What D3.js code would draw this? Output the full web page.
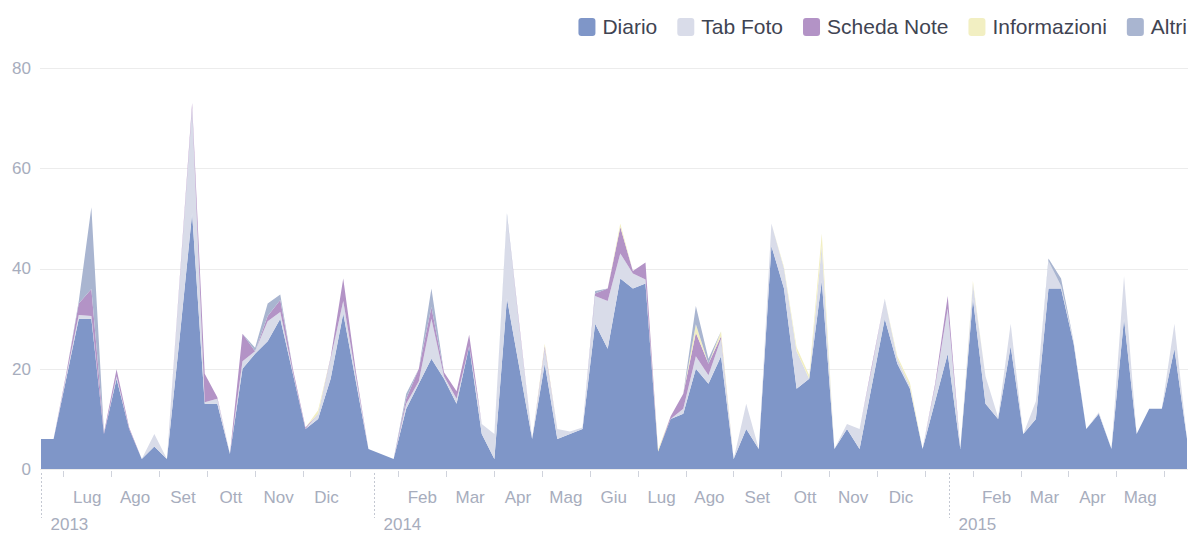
<!DOCTYPE html>
<html>
<head>
<meta charset="utf-8">
<script src="https://cdn.jsdelivr.net/npm/d3@7"></script>
<style>
  html, body { margin: 0; padding: 0; background: #fff; }
  svg { display: block; }
</style>
</head>
<body>
<svg id="chart" width="1188" height="533"></svg>
<script>
// ---------- DATA ----------
const seriesNames = ["Diario", "Tab Foto", "Scheda Note", "Informazioni", "Altri"];

const diario = [
  6, 6, 18, 30, 30, 7, 18, 8, 2, 4.5,
  2, 26, 51, 13, 13, 3, 20, 23, 25.5, 30,
  19, 8, 10, 18, 31, 17.5, 4, 3, 2, 12,
  17, 22, 18, 13, 24.5, 7, 2, 34, 20, 6,
  21, 6, 7, 8, 29, 24, 38, 36, 37, 3.5,
  10, 11, 20, 17, 22.5, 2, 8, 4, 44.5, 36,
  16, 18, 37.5, 4, 8, 4, 17, 30, 21, 16,
  4, 13.5, 23, 4, 34, 13, 10, 24.5, 7, 10,
  36, 36, 25, 8, 11, 4, 30, 7, 12, 12,
  24, 6
];
const tabFoto = [
  0, 0, 0.5, 0.7, 0.5, 0, 0.5, 0, 0, 2.5,
  0, 11, 21, 0.3, 1, 0, 1.5, 0.5, 4, 1.3,
  0.3, 0, 1, 4, 2.5, 1, 0, 0, 0, 1,
  0.5, 8, 0.5, 1, 0, 2, 5, 16.5, 8, 0,
  3, 2, 0.5, 0.3, 5.5, 9.5, 5, 3, 0.8, 0,
  0, 1, 2.5, 1.7, 3.5, 0, 5, 0, 4.5, 4,
  7.5, 0, 7, 0, 1, 4, 3.5, 4, 1, 0.5,
  0, 3, 9, 0, 3, 5.5, 0.3, 4.5, 0, 3.5,
  5.5, 0.5, 0.5, 0, 0.3, 0, 8.5, 0, 0, 0,
  5, 0
];
const schedaNote = [
  0, 0, 0.5, 2.3, 5.4, 0.3, 1.4, 0.3, 0, 0,
  0, 0.5, 1, 5.7, 0.3, 0, 5.5, 0, 1, 2.4,
  0.7, 0.3, 0, 0.3, 4.5, 1, 0, 0, 0, 1,
  2.5, 2.3, 0.8, 1.5, 2.3, 0, 0, 0, 0.5, 0,
  0.5, 0, 0, 0, 0.5, 2.5, 5.3, 0.5, 3.4, 0,
  0.5, 3, 4.7, 2.3, 0.5, 0, 0, 0, 0, 0,
  0, 0, 0, 0, 0, 0, 0.5, 0, 0, 0,
  0, 0.5, 2.5, 0, 0, 0, 0, 0, 0, 0,
  0, 0, 0, 0, 0, 0, 0, 0, 0, 0,
  0, 0
];
const informazioni = [
  0, 0, 0, 0, 0, 0, 0, 0, 0, 0,
  0, 0, 0, 0, 0, 0, 0, 0, 0, 0,
  0, 0, 0.7, 0, 0, 0, 0, 0, 0, 0,
  0, 0, 0, 0, 0, 0, 0, 0, 0, 0,
  0.5, 0, 0, 0, 0, 0, 0.7, 0, 0, 0.4,
  0, 0, 1.7, 0, 1, 0, 0, 0, 0, 0.3,
  0.8, 0.7, 2.5, 0, 0, 0, 0, 0, 0.5, 0.7,
  0, 0, 0, 0, 0.5, 0, 0, 0, 0, 0,
  0, 0, 0, 0, 0, 0, 0, 0, 0, 0,
  0, 0
];
const altri = [
  0, 0, 0, 0.5, 16.3, 0, 0, 0, 0, 0,
  0, 0, 0, 0, 0, 0, 0, 0.7, 2.5, 1.1,
  0, 0, 0, 0, 0, 0, 0, 0, 0, 1,
  0, 3.7, 0, 0, 0, 0, 0, 0.5, 0, 0,
  0, 0, 0, 0, 0.5, 0, 0, 0, 0, 0,
  0, 0, 3.6, 1, 0, 0, 0, 0, 0, 0,
  0, 0, 0, 0, 0, 0, 0, 0, 0, 0,
  0, 0, 0, 0, 0, 0, 0, 0, 0, 0,
  0.5, 1.5, 0, 0, 0, 0, 0, 0, 0, 0,
  0, 0
];

// month slots from June 2013 (index 0); year names replace January / first month
const monthLabels = ["2013", "Lug", "Ago", "Set", "Ott", "Nov", "Dic",
  "2014", "Feb", "Mar", "Apr", "Mag", "Giu", "Lug", "Ago", "Set", "Ott", "Nov", "Dic",
  "2015", "Feb", "Mar", "Apr", "Mag"];
const yTicks = [0, 20, 40, 60, 80];

// ---------- STYLE ----------
const colors = ["#7f96c8", "#d9dce9", "#b393c6", "#f2efc2", "#a9b5d0"];
const W = 1188, H = 533;
const L = 41, R = 1187, T = 68, B = 469;

const svg = d3.select("#chart");

// ---------- SCALES ----------
const rows = diario.map((d, i) => ({
  i,
  "Diario": d,
  "Tab Foto": tabFoto[i],
  "Scheda Note": schedaNote[i],
  "Informazioni": informazioni[i],
  "Altri": altri[i]
}));

const x = d3.scalePoint().domain(rows.map(r => r.i)).range([L, R]);
const y = d3.scaleLinear().domain([0, 80]).range([B, T]);
// month axis (month units, 0 = start of June 2013)
const monthX = d3.scaleLinear().domain([0.534, 24.477]).range([L, R]);

// ---------- GRID ----------
svg.append("g").selectAll("line").data(yTicks).join("line")
  .attr("x1", L - 1).attr("x2", W)
  .attr("y1", d => Math.round(y(d)) + 0.5).attr("y2", d => Math.round(y(d)) + 0.5)
  .attr("stroke", "#ececec").attr("stroke-width", 1);

const yAxis = d3.axisLeft(y).tickValues(yTicks).tickSize(0).tickPadding(0);
svg.append("g")
  .attr("transform", `translate(${L - 10},0)`)
  .call(yAxis)
  .call(g => g.select(".domain").remove())
  .call(g => g.selectAll("text")
    .attr("fill", "#a7adbd")
    .style("font-family", "'Liberation Sans', Arial, sans-serif")
    .style("font-size", "17px"));

// ---------- AREAS ----------
const stack = d3.stack().keys(seriesNames);
const layers = stack(rows);
const area = d3.area()
  .x(d => x(d.data.i))
  .y0(d => y(d[0]))
  .y1(d => y(d[1]))
  .curve(d3.curveLinear);

svg.append("g").selectAll("path").data(layers).join("path")
  .attr("d", area)
  .attr("fill", (d, i) => colors[i])
  .attr("stroke", "none");

// ---------- X AXIS ----------
const axisG = svg.append("g");
const fontFam = "'Liberation Sans', Arial, sans-serif";
// month boundary ticks
const bounds = d3.range(1, monthLabels.length + 1).filter(m => monthX(m) <= R);
axisG.selectAll("line.tick").data(bounds).join("line")
  .attr("class", "tick")
  .attr("x1", m => Math.round(monthX(m)) + 0.5).attr("x2", m => Math.round(monthX(m)) + 0.5)
  .attr("y1", B + 2).attr("y2", B + 8)
  .attr("stroke", "#d0d3dc").attr("stroke-width", 1);

monthLabels.forEach((lab, m) => {
  const cx = monthX(m + 0.5);
  if (/^\d{4}$/.test(lab)) {
    const dx = Math.round(Math.max(cx, L)) + 0.5;
    axisG.append("line")
      .attr("x1", dx).attr("x2", dx).attr("y1", B + 4).attr("y2", B + 49)
      .attr("stroke", "#c4c8d2").attr("stroke-dasharray", "2,2");
    axisG.append("text")
      .attr("x", dx + 9).attr("y", B + 61)
      .attr("fill", "#a7adbd")
      .style("font-family", fontFam).style("font-size", "17px")
      .text(lab);
  } else {
    axisG.append("text")
      .attr("x", cx).attr("y", B + 34)
      .attr("text-anchor", "middle")
      .attr("fill", "#a7adbd")
      .style("font-family", fontFam).style("font-size", "17px")
      .text(lab);
  }
});

// ---------- LEGEND ----------
const legend = svg.append("g");
const items = [];
seriesNames.forEach((name, i) => {
  const g = legend.append("g");
  g.append("rect").attr("width", 17).attr("height", 18).attr("rx", 3).attr("ry", 3)
    .attr("fill", colors[i]);
  const t = g.append("text").attr("x", 24).attr("y", 16)
    .attr("fill", "#3f4452")
    .style("font-family", fontFam).style("font-size", "21px")
    .text(name);
  items.push({ g, w: 24 + t.node().getComputedTextLength() });
});
let cursor = R;
for (let i = items.length - 1; i >= 0; i--) {
  cursor -= items[i].w;
  items[i].g.attr("transform", `translate(${cursor},18)`);
  cursor -= 20;
}
</script>
</body>
</html>
